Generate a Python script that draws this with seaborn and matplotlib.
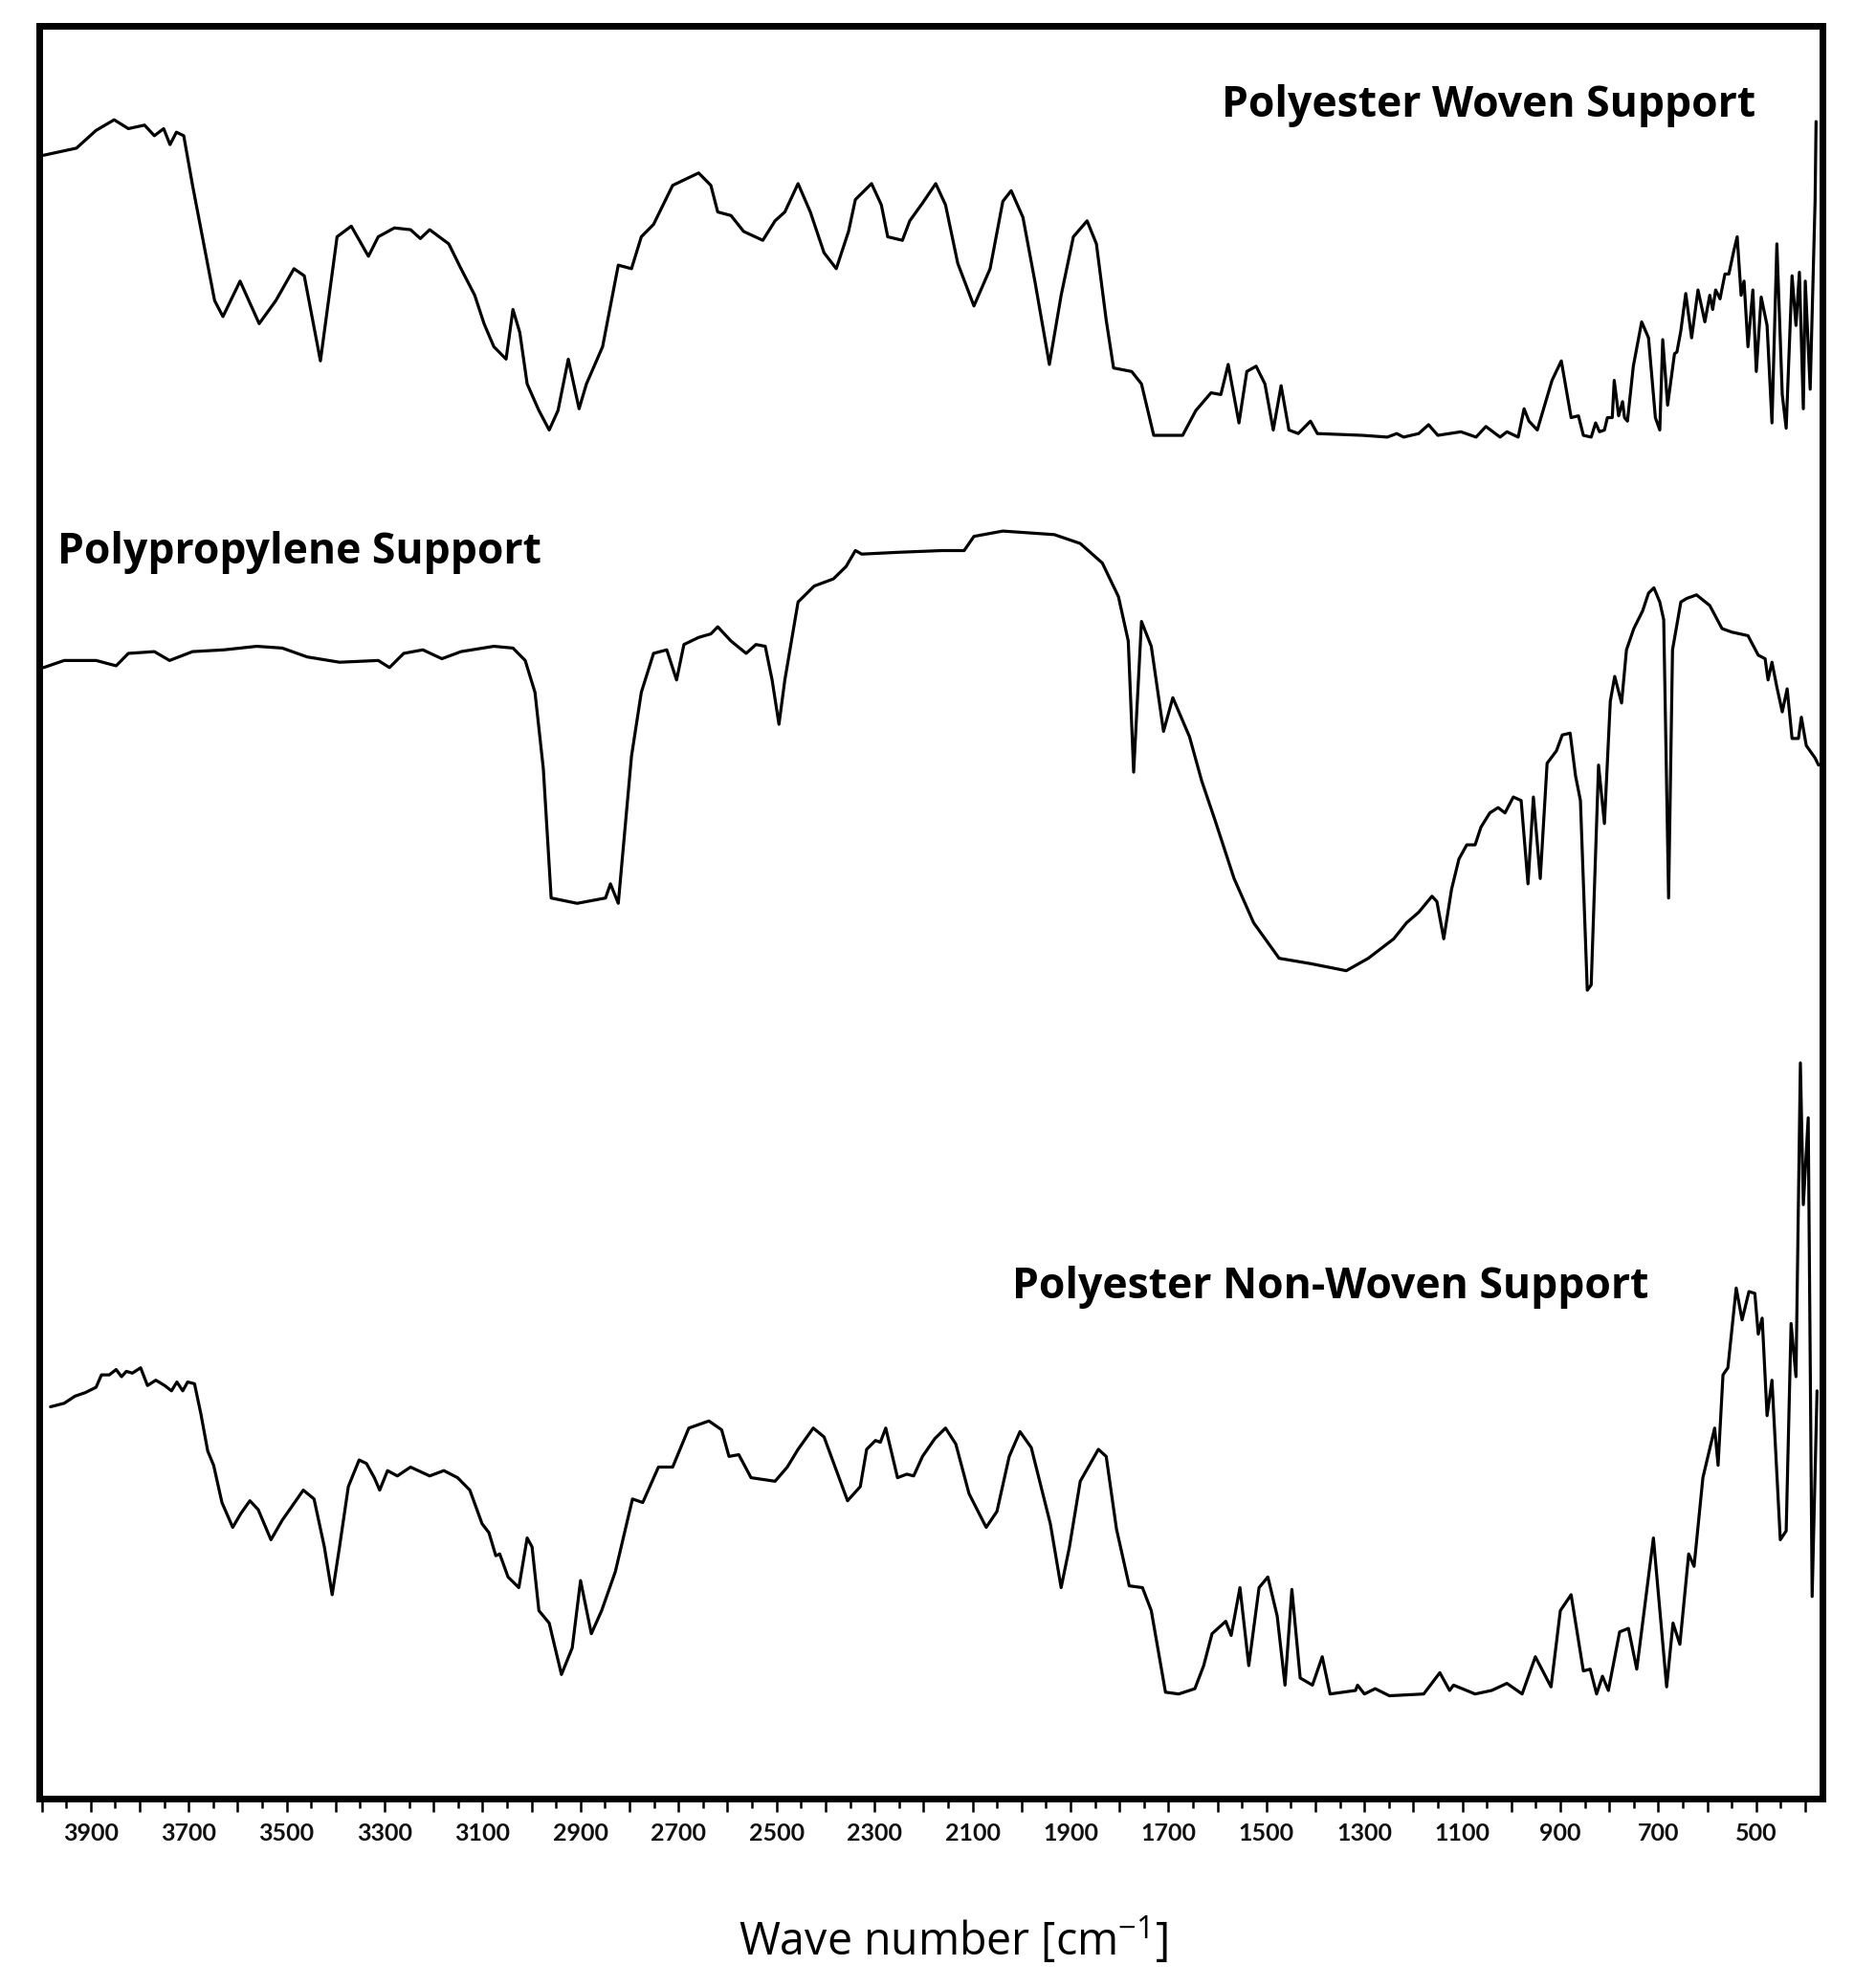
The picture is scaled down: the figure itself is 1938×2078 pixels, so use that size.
import numpy as np
import pandas as pd
import matplotlib
matplotlib.use("Agg")
import matplotlib.pyplot as plt
from matplotlib import font_manager as fm
import seaborn as sns

# ---------------- data (wavenumber in cm^-1, offset transmittance in a.u.) ----------------
woven_wn = [3996, 3929, 3889, 3852, 3823, 3790, 3770, 3751, 3738, 3725, 3710, 3692, 3667, 3647, 3630,
            3595, 3556, 3522, 3485, 3464, 3431, 3397, 3368, 3333, 3313, 3280, 3247, 3227, 3208, 3169,
            3144, 3116, 3097, 3077, 3052, 3038, 3024, 3009, 2985, 2964, 2946, 2925, 2903, 2888, 2855,
            2823, 2796, 2776, 2751, 2712, 2659, 2634, 2620, 2593, 2567, 2528, 2503, 2483, 2456, 2431,
            2403, 2378, 2353, 2339, 2306, 2286, 2273, 2243, 2228, 2202, 2175, 2155, 2130, 2097, 2064,
            2038, 2021, 1997, 1972, 1943, 1919, 1894, 1866, 1847, 1827, 1812, 1775, 1755, 1730, 1671,
            1644, 1613, 1593, 1578, 1556, 1540, 1521, 1503, 1486, 1470, 1454, 1435, 1410, 1396, 1304,
            1253, 1234, 1220, 1189, 1169, 1150, 1103, 1072, 1052, 1023, 1009, 986, 974, 964, 947,
            917, 898, 878, 863, 853, 837, 828, 820, 810, 804, 794, 790, 781, 773, 769,
            763, 751, 734, 720, 706, 697, 691, 681, 667, 662, 654, 644, 632, 619, 605,
            595, 589, 583, 574, 564, 556, 546, 539, 531, 525, 517, 507, 500, 490, 478,
            468, 458, 447, 439, 427, 419, 412, 404, 400, 390, 380, 378]
woven_t = [92.7, 93.1, 94.1, 94.7, 94.2, 94.4, 93.8, 94.2, 93.3, 94.0, 93.8, 91.0, 87.4, 84.5, 83.6,
           85.6, 83.2, 84.5, 86.3, 85.9, 81.1, 88.1, 88.7, 87.0, 88.1, 88.6, 88.5, 88.0, 88.5, 87.7,
           86.3, 84.8, 83.2, 81.9, 81.2, 84.0, 82.7, 79.8, 78.3, 77.2, 78.3, 81.2, 78.4, 79.8, 81.9,
           86.5, 86.3, 88.1, 88.8, 91.0, 91.7, 91.0, 89.5, 89.3, 88.4, 87.9, 89.0, 89.5, 91.1, 89.5,
           87.2, 86.3, 88.4, 90.2, 91.1, 89.9, 88.1, 87.9, 89.0, 90.0, 91.1, 89.9, 86.6, 84.2, 86.3,
           90.1, 90.7, 89.2, 85.5, 80.9, 84.8, 88.1, 89.0, 87.7, 83.4, 80.7, 80.5, 79.8, 76.9, 76.9,
           78.3, 79.3, 79.2, 80.9, 77.6, 80.5, 80.8, 79.8, 77.2, 79.7, 77.2, 77.0, 77.7, 77.0, 76.9,
           76.8, 77.0, 76.8, 77.0, 77.5, 76.9, 77.1, 76.8, 77.4, 76.8, 77.1, 76.8, 78.4, 77.7, 77.2,
           80.0, 81.1, 77.9, 78.0, 76.9, 76.8, 77.6, 77.1, 77.2, 77.9, 77.9, 80.0, 78.0, 78.8, 77.9,
           77.7, 80.8, 83.3, 82.4, 77.9, 77.2, 82.3, 78.6, 81.5, 81.6, 82.8, 84.9, 82.4, 85.1, 83.3,
           84.8, 84.0, 85.1, 84.6, 86.0, 86.0, 87.3, 88.1, 84.8, 85.6, 81.9, 85.1, 80.5, 84.7, 83.1,
           77.6, 87.7, 79.2, 77.3, 85.9, 83.1, 86.1, 78.4, 85.6, 79.5, 90.1, 94.6]

pp_wn = [3996, 3954, 3889, 3848, 3823, 3770, 3739, 3692, 3628, 3561, 3509, 3458, 3392, 3313, 3290,
         3261, 3222, 3183, 3144, 3077, 3038, 3013, 2993, 2976, 2960, 2907, 2868, 2849, 2839, 2823,
         2810, 2796, 2776, 2751, 2724, 2704, 2689, 2659, 2634, 2620, 2593, 2562, 2542, 2523, 2509,
         2495, 2483, 2456, 2423, 2384, 2358, 2339, 2326, 2253, 2162, 2117, 2097, 2038, 1933, 1880,
         1835, 1802, 1782, 1771, 1755, 1735, 1710, 1691, 1657, 1632, 1605, 1566, 1526, 1474, 1410,
         1337, 1292, 1240, 1214, 1189, 1162, 1152, 1138, 1122, 1107, 1091, 1074, 1062, 1044, 1027,
         1013, 996, 980, 966, 955, 941, 927, 908, 896, 880, 869, 859, 845, 837, 822,
         810, 798, 789, 775, 765, 750, 732, 720, 709, 697, 689, 679, 671, 654, 642,
         622, 595, 570, 550, 517, 496, 482, 476, 468, 458, 447, 437, 427, 414, 408,
         398, 380, 373]
pp_t = [63.8, 64.2, 64.2, 63.9, 64.6, 64.7, 64.2, 64.7, 64.8, 65.0, 64.9, 64.4, 64.1, 64.2, 63.8,
        64.6, 64.8, 64.3, 64.7, 65.0, 64.9, 64.2, 62.4, 58.1, 50.8, 50.5, 50.7, 50.8, 51.6, 50.5,
        54.5, 58.8, 62.4, 64.6, 64.8, 63.1, 65.1, 65.5, 65.7, 66.1, 65.3, 64.6, 65.1, 65.0, 63.1,
        60.6, 63.1, 67.5, 68.4, 68.8, 69.5, 70.4, 70.2, 70.3, 70.4, 70.4, 71.2, 71.5, 71.3, 70.8,
        69.7, 67.8, 65.3, 57.9, 66.4, 65.0, 60.2, 62.1, 59.9, 57.4, 55.2, 51.9, 49.4, 47.4, 47.1,
        46.7, 47.4, 48.5, 49.4, 50.0, 50.9, 50.6, 48.5, 51.3, 53.0, 53.8, 53.8, 54.8, 55.6, 55.9,
        55.6, 56.5, 56.3, 51.6, 56.5, 51.9, 58.4, 59.1, 60.0, 60.1, 57.7, 56.3, 45.6, 45.9, 58.3,
        55.0, 61.9, 63.3, 61.8, 64.8, 66.0, 67.0, 68.0, 68.3, 67.5, 66.5, 50.8, 64.8, 67.5, 67.7,
        67.9, 67.3, 66.0, 65.8, 65.6, 64.5, 64.3, 63.1, 64.1, 62.7, 61.3, 62.6, 59.8, 59.8, 61.0,
        59.4, 58.7, 58.3]

nonwoven_wn = [3982, 3954, 3932, 3911, 3889, 3878, 3862, 3848, 3837, 3827, 3815, 3798, 3784, 3767, 3749,
               3735, 3724, 3712, 3702, 3688, 3675, 3661, 3649, 3632, 3610, 3593, 3575, 3558, 3532, 3509,
               3466, 3444, 3423, 3407, 3392, 3374, 3352, 3337, 3321, 3310, 3294, 3274, 3247, 3208, 3179,
               3151, 3126, 3101, 3087, 3073, 3065, 3048, 3026, 3009, 2999, 2985, 2964, 2939, 2917, 2900,
               2878, 2857, 2829, 2794, 2773, 2741, 2712, 2679, 2638, 2612, 2597, 2577, 2552, 2503, 2478,
               2456, 2425, 2403, 2355, 2329, 2316, 2298, 2288, 2277, 2253, 2234, 2220, 2202, 2177, 2155,
               2134, 2107, 2072, 2050, 2025, 2003, 1980, 1941, 1919, 1902, 1880, 1843, 1827, 1806, 1780,
               1753, 1735, 1706, 1679, 1646, 1628, 1611, 1583, 1572, 1554, 1536, 1515, 1497, 1478, 1462,
               1448, 1431, 1406, 1386, 1370, 1318, 1314, 1300, 1278, 1249, 1179, 1146, 1126, 1118, 1074,
               1040, 1009, 978, 951, 919, 900, 878, 853, 839, 826, 814, 802, 779, 761, 744,
               710, 683, 670, 656, 638, 627, 609, 585, 578, 568, 558, 541, 529, 515, 503,
               496, 488, 478, 468, 451, 439, 429, 419, 410, 404, 394, 386, 376]
nonwoven_t = [22.1, 22.3, 22.7, 22.9, 23.2, 23.9, 23.9, 24.2, 23.8, 24.1, 24.0, 24.3, 23.3, 23.6, 23.3,
              23.0, 23.5, 23.0, 23.5, 23.4, 21.7, 19.6, 18.8, 16.7, 15.3, 16.1, 16.8, 16.3, 14.6, 15.7,
              17.4, 16.9, 14.2, 11.5, 14.2, 17.6, 19.1, 18.9, 18.1, 17.4, 18.5, 18.2, 18.7, 18.2, 18.5,
              18.1, 17.4, 15.5, 15.0, 13.7, 13.8, 12.5, 11.9, 14.7, 14.2, 10.6, 9.9, 7.0, 8.5, 12.3,
              9.3, 10.6, 12.8, 16.9, 16.7, 18.7, 18.7, 20.9, 21.3, 20.8, 19.3, 19.4, 18.1, 17.9, 18.7,
              19.7, 20.9, 20.4, 16.8, 17.6, 19.7, 20.2, 20.1, 20.9, 18.1, 18.3, 18.2, 19.3, 20.3, 20.9,
              20.0, 17.2, 15.3, 16.2, 19.3, 20.7, 19.8, 15.5, 11.9, 14.2, 17.9, 19.7, 19.3, 15.2, 12.0,
              11.9, 10.6, 6.0, 5.9, 6.2, 7.5, 9.3, 10.0, 9.2, 11.9, 7.5, 11.9, 12.5, 10.3, 6.4,
              11.8, 6.8, 6.4, 8.0, 5.9, 6.1, 6.4, 5.9, 6.2, 5.8, 5.9, 7.1, 6.1, 6.4, 5.9,
              6.1, 6.5, 5.9, 8.0, 6.3, 10.6, 11.5, 7.2, 7.3, 5.9, 6.9, 6.1, 9.4, 9.6, 7.3,
              14.7, 6.3, 9.9, 8.7, 13.8, 13.1, 18.1, 20.9, 18.8, 23.9, 24.3, 28.8, 27.0, 28.6, 28.5,
              26.2, 27.1, 21.6, 23.6, 14.6, 15.1, 26.8, 23.8, 41.5, 33.5, 38.4, 11.4, 23.0]

series_names = ["Polyester Woven Support", "Polypropylene Support", "Polyester Non-Woven Support"]
major_ticks = list(range(4000, 399, -100))
minor_ticks = list(range(3950, 399, -100))
tick_labels = [str(v) if (v // 100) % 2 == 1 else "" for v in major_ticks]
x_label = "Wave number [cm$^{-1}$]"

# ---------------- style ----------------
sns.set_theme(style="white")
names = {f.name for f in fm.fontManager.ttflist}
narrow_font = "Liberation Sans Narrow" if "Liberation Sans Narrow" in names else "Lato"
plt.rcParams["font.family"] = ["Open Sans", "DejaVu Sans"]
plt.rcParams["mathtext.fontset"] = "custom"
plt.rcParams["mathtext.rm"] = "Open Sans"

fig = plt.figure(figsize=(19.38, 20.78), dpi=100)
ax = fig.add_axes([41 / 1938, 198 / 2078, 1864 / 1938, 1853 / 2078])

frames = [
    pd.DataFrame({"wn": woven_wn, "t": woven_t}),
    pd.DataFrame({"wn": pp_wn, "t": pp_t}),
    pd.DataFrame({"wn": nonwoven_wn, "t": nonwoven_t}),
]
for df in frames:
    sns.lineplot(data=df, x="wn", y="t", ax=ax, color="black", linewidth=2.3,
                 sort=False, estimator=None, solid_joinstyle="round", solid_capstyle="round")

ax.set_xlim(4005, 365)
ax.set_ylim(0, 100)
ax.set_xlabel("")
ax.set_ylabel("")
ax.set_yticks([])

ax.set_xticks(major_ticks)
ax.set_xticklabels(tick_labels, fontfamily=narrow_font, fontsize=18, fontweight="bold")
ax.set_xticks(minor_ticks, minor=True)
ax.tick_params(axis="x", which="major", direction="out", length=10, width=1.8,
               color="black", pad=8, bottom=True, labelcolor="#111111")
ax.tick_params(axis="x", which="minor", direction="out", length=7.5, width=1.8,
               color="black", bottom=True)

for sp in ax.spines.values():
    sp.set_visible(True)
    sp.set_color("black")
    sp.set_linewidth(5)

# series labels
title_kw = dict(transform=ax.transAxes, fontsize=32, fontweight="bold",
                ha="left", va="center", color="black", family=["Open Sans", "DejaVu Sans"])
ax.text(0.663, 0.9547, series_names[0], **title_kw)
ax.text(0.0102, 0.703, series_names[1], **title_kw)
ax.text(0.5456, 0.2887, series_names[2], **title_kw)

fig.text(996 / 1938, 1 - 2028 / 2078, x_label, fontsize=33.5, ha="center", va="center",
         color="black", family=["Open Sans", "DejaVu Sans"])

fig.savefig("out.png", dpi=100, facecolor="white")
